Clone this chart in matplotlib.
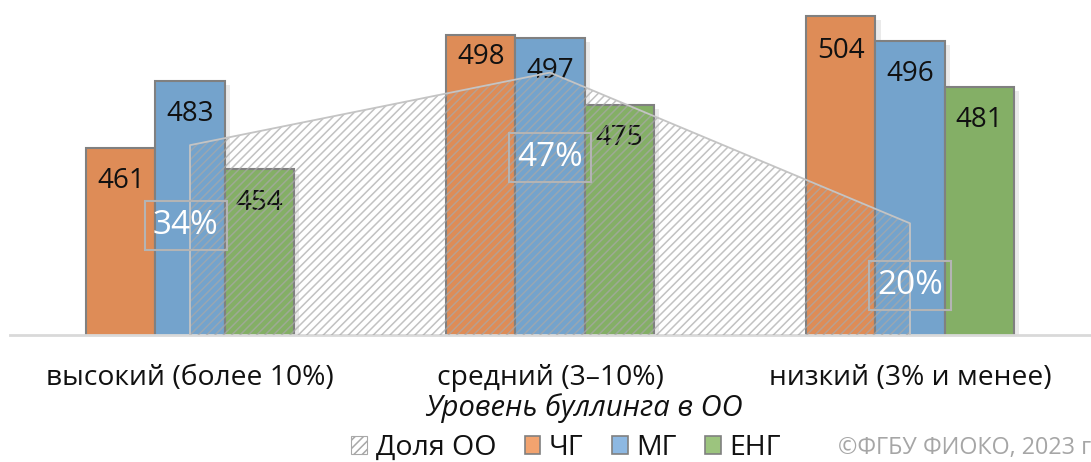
import matplotlib
matplotlib.use("Agg")
import matplotlib.pyplot as plt
import matplotlib.patheffects as pe
from matplotlib.patches import Patch
import numpy as np

plt.rcParams['font.family'] = ['Open Sans', 'DejaVu Sans']
plt.rcParams['hatch.linewidth'] = 1.1

# Data
categories = ["высокий (более 10%)", "средний (3–10%)", "низкий (3% и менее)"]
series_names = ["ЧГ", "МГ", "ЕНГ"]
chg = [461, 498, 504]
mg = [483, 497, 496]
eng = [454, 475, 481]
share_pct = [34, 47, 20]
share_name = "Доля ОО"
axis_title = "Уровень буллинга в ОО"
credit = "©ФГБУ ФИОКО, 2023 г"

bar_colors = ["#DE8C57", "#74A3CC", "#84AF66"]
legend_colors = ["#F2A36F", "#8DB8E2", "#9CC47E"]
edge = "#808080"
text_col = "#111111"

W, H = 1091, 462
fig = plt.figure(figsize=(W / 100, H / 100), dpi=100)
base_px = 335
ax = fig.add_axes([10 / W, (H - base_px) / H, 1080 / W, base_px / H])
ax.set_xlim(-0.5, 2.5)
ax.set_ylim(400, 509.3)

x = np.arange(len(categories))
bw = 0.1917
shadow = [pe.SimplePatchShadow(offset=(4, -3), shadow_rgbFace="#7f7f7f", alpha=0.16), pe.Normal()]

# label offsets below bar tops, in points
label_drop = [[-24, -24, -24], [-16, -24, -24], [-25, -24, -24]]
for i, (vals, col) in enumerate(zip([chg, mg, eng], bar_colors)):
    xs = x + (i - 1) * bw
    bars = ax.bar(xs, vals, width=bw, color=col, edgecolor=edge, linewidth=1.5,
                  bottom=0, zorder=2)
    for b in bars:
        b.set_path_effects(shadow)
    for j, (xx, v) in enumerate(zip(xs, vals)):
        ax.annotate(str(v), (xx, v), xytext=(0, label_drop[j][i]), textcoords="offset points",
                    ha="center", va="center", fontsize=20, color=text_col, zorder=5)

ax.set_yticks([])
ax.set_xticks(x)
ax.set_xticklabels(categories, fontsize=20.3, color=text_col)
ax.tick_params(axis="x", length=0, pad=21)
for s in ["top", "left", "right"]:
    ax.spines[s].set_visible(False)
ax.spines["bottom"].set_color("#d9d9d9")
ax.spines["bottom"].set_linewidth(2)
ax.patch.set_visible(False)

# Share of schools: hatched area on secondary axis
ax2 = ax.twinx()
ax2.set_ylim(0, 60)
ax2.set_yticks([])
for s in ax2.spines.values():
    s.set_visible(False)
ax2.fill_between(x, 0, share_pct, facecolor="none", edgecolor="#a8a8a8", hatch="////",
                 linewidth=0, alpha=0.7, zorder=3)
ax2.plot(np.r_[x[0], x, x[-1]], np.r_[0, share_pct, 0], color="#c4c4c4", lw=1.3, zorder=3)

pct_drop = [-58, -61, -45]
for xx, v, d in zip(x, share_pct, pct_drop):
    ax2.annotate(f"{v}%", (xx, v), xytext=(-3 if xx == 0 else 0, d), textcoords="offset points",
                 ha="center", va="center", fontsize=24, color="white", zorder=6,
                 bbox=dict(boxstyle="square,pad=0.24", fc="none", ec="#b4b4b4", lw=1.5))

fig.text(584 / W, 1 - 408 / H, axis_title, ha="center", va="center", fontsize=21,
         style="italic", color=text_col)

handles = [Patch(facecolor="white", edgecolor="#a8a8a8", hatch="////", linewidth=0.8)]
handles += [Patch(facecolor=c, edgecolor=edge, linewidth=1.2) for c in legend_colors]
fig.legend(handles, [share_name] + series_names, loc="center", bbox_to_anchor=(566 / W, 1 - 448 / H),
           ncol=4, frameon=False, fontsize=20.5, handlelength=0.55, handleheight=0.55,
           handletextpad=0.3, columnspacing=1.0, labelcolor=text_col, borderpad=0)

fig.text(838 / W, 1 - 448 / H, credit, ha="left", va="center", fontsize=16.8, color="#a6a6a6")

fig.savefig("out.png", dpi=100)
